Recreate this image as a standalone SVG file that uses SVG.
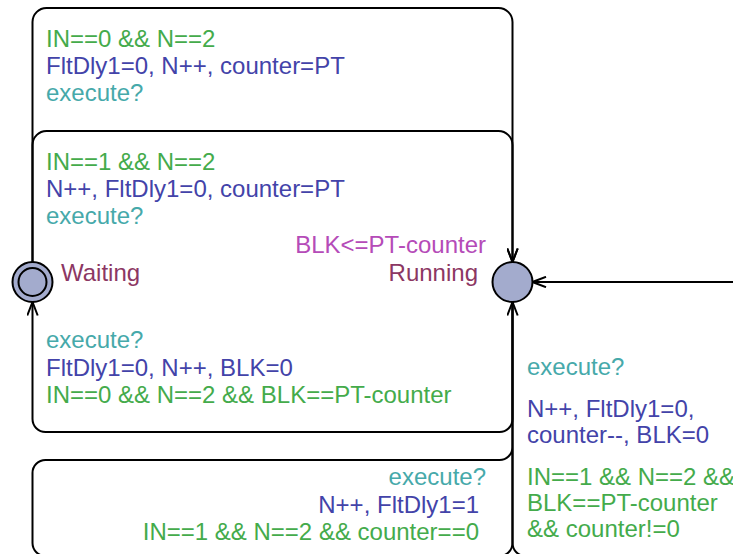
<svg xmlns="http://www.w3.org/2000/svg" width="733" height="554" viewBox="0 0 733 554">
<style>
text{font-family:"Liberation Sans",Arial,sans-serif;font-size:24px}
.g{fill:#44ab4b}.u{fill:#4343a9}.s{fill:#46a9aa}.i{fill:#b54bb8}.n{fill:#8c3763}
.e{fill:none;stroke:#000;stroke-width:2}
.loc{fill:#a3abcd;stroke:#000;stroke-width:2}
.end{text-anchor:end}
</style>
<defs>
<marker id="arr" viewBox="0 0 15 12" refX="14" refY="6" markerWidth="15" markerHeight="12" markerUnits="userSpaceOnUse" orient="auto">
<path d="M0.5,0.8 L14,6 L0.5,11.2" fill="none" stroke="#000" stroke-width="2"/>
</marker>
</defs>
<rect width="733" height="554" fill="#fff"/>
<g id="connectors">
<g id="e1">
<path class="e" marker-end="url(#arr)" d="M32.5,262 V22 A14,14 0 0 1 46.5,8 H498.5 A14,14 0 0 1 512.5,22 V262"/>
<text class="g" x="46" y="47">IN==0 &amp;&amp; N==2</text>
<text class="u" x="46" y="74">FltDly1=0, N++, counter=PT</text>
<text class="s" x="46" y="101">execute?</text>
</g>
<g id="e2">
<path class="e" marker-end="url(#arr)" d="M32.5,262 V145 A14,14 0 0 1 46.5,131 H498.5 A14,14 0 0 1 512.5,145 V262"/>
<text class="g" x="46" y="170">IN==1 &amp;&amp; N==2</text>
<text class="u" x="46" y="197">N++, FltDly1=0, counter=PT</text>
<text class="s" x="46" y="224">execute?</text>
</g>
<g id="e3">
<path class="e" marker-end="url(#arr)" d="M512.5,302 V419 A13,13 0 0 1 499.5,432 H45.5 A13,13 0 0 1 32.5,419 V302"/>
<text class="s" x="46" y="348">execute?</text>
<text class="u" x="46" y="376">FltDly1=0, N++, BLK=0</text>
<text class="g" x="46" y="403">IN==0 &amp;&amp; N==2 &amp;&amp; BLK==PT-counter</text>
</g>
<g id="e4">
<path class="e" marker-end="url(#arr)" d="M512.5,302 V543 A13,13 0 0 1 499.5,556 H45.5 A13,13 0 0 1 32.5,543 V473 A13,13 0 0 1 45.5,460 H499.5 A13,13 0 0 0 512.5,447 V302"/>
<text class="s end" x="486" y="485">execute?</text>
<text class="u end" x="479" y="513">N++, FltDly1=1</text>
<text class="g end" x="479" y="540">IN==1 &amp;&amp; N==2 &amp;&amp; counter==0</text>
</g>
<g id="e5">
<path class="e" marker-end="url(#arr)" d="M512.5,302 V543 A13,13 0 0 0 525.5,556 H760 V282 H532.5"/>
<text class="s" x="527" y="375">execute?</text>
<text class="u" x="527" y="417">N++, FltDly1=0,</text>
<text class="u" x="527" y="443">counter--, BLK=0</text>
<text class="g" x="527" y="485">IN==1 &amp;&amp; N==2 &amp;&amp;</text>
<text class="g" x="527" y="511">BLK==PT-counter</text>
<text class="g" x="527" y="537">&amp;&amp; counter!=0</text>
</g>
</g>
<g id="Waiting">
<circle class="loc" cx="32.5" cy="282" r="20"/>
<circle class="loc" cx="32.5" cy="282" r="14"/>
<text class="n" x="61" y="281">Waiting</text>
</g>
<g id="Running">
<circle class="loc" cx="512.5" cy="282" r="20"/>
<text class="i end" x="486" y="253">BLK&lt;=PT-counter</text>
<text class="n end" x="478" y="281">Running</text>
</g>
</svg>
